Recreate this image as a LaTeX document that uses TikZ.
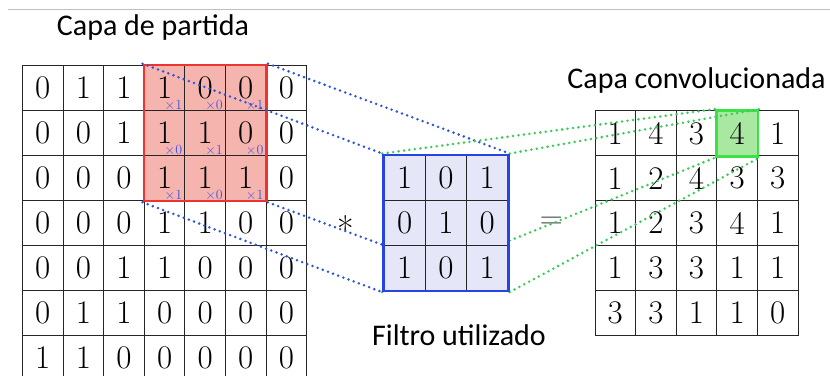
\documentclass[tikz,border=0pt]{standalone}
\usepackage{fontspec}
\newfontfamily\capafont{Carlito}
\usetikzlibrary{calc,fit,positioning}
\definecolor{capared}{RGB}{238,52,48}
\definecolor{capapink}{RGB}{246,180,174}
\definecolor{capablue}{RGB}{38,68,228}
\definecolor{capalav}{RGB}{229,231,248}
\definecolor{capagreen}{RGB}{58,226,70}
\definecolor{capamint}{RGB}{168,232,160}
\definecolor{dotblue}{RGB}{45,85,215}
\definecolor{dotgreen}{RGB}{55,205,90}
\definecolor{weightblue}{RGB}{70,80,225}
\pgfdeclarelayer{back}
\pgfdeclarelayer{lines}
\pgfdeclarelayer{front}
\pgfsetlayers{back,main,lines,front}
\tikzstyle{cell}=[
	draw=black!85,
	line width=1pt,
	rectangle,
	minimum width=40.6pt,
	minimum height=45pt,
	inner sep=0,
	font=\fontsize{33}{33}\selectfont]
\tikzstyle{kcell}=[
	cell,
	minimum width=41.3pt,
	fill=capalav]
\tikzstyle{weight}=[
	anchor=south east,
	inner sep=1pt,
	text=weightblue,
	font=\fontsize{14}{14}\selectfont]
\tikzstyle{winframe}=[
	rectangle,
	line width=2.6pt,
	inner sep=0]
\tikzstyle{link}=[
	line width=2.8pt,
	line cap=round,
	dash pattern=on 0pt off 5.5pt]
\tikzstyle{caption}=[
	anchor=base,
	inner sep=0,
	font=\capafont\fontsize{30}{30}\selectfont]
\begin{document}
\begin{tikzpicture}[x=1pt,y=-1pt]
	\path[use as bounding box,clip] (0,0) rectangle (830,375);
	\draw[black!25,line width=.8pt] (8,9) -- (830,9);
	% capa de partida
	\foreach \row [count=\r] in {{0,1,1,1,0,0,0},{0,0,1,1,1,0,0},{0,0,0,1,1,1,0},{0,0,0,1,1,0,0},{0,0,1,1,0,0,0},{0,1,1,0,0,0,0},{1,1,0,0,0,0,0}}
		\foreach \v [count=\c] in \row
			\node[cell] (in-\r-\c) at ({22.5+40.6*(\c-.5)},{65.5+45*(\r-.5)}) {\v};
	\begin{pgfonlayer}{back}
		\node[winframe,fill=capapink,fit=(in-1-4)(in-3-6)] (windowbg) {};
	\end{pgfonlayer}
	\foreach \row [count=\r] in {{1,0,1},{0,1,0},{1,0,1}}
		\foreach \v [count=\c] in \row {
			\pgfmathtruncatemacro\cc{\c+3}
			\node[weight] (w-\r-\c) at ([xshift=-2pt]in-\r-\cc.south east) {×\v};
		}
	\node[winframe,draw=capared,fit=(in-1-4)(in-3-6)] (window) {};
	\node[caption] (textin) at (153,35) {Capa de partida};
	% filtro
	\begin{pgfonlayer}{front}
		\foreach \row [count=\r] in {{1,0,1},{0,1,0},{1,0,1}}
			\foreach \v [count=\c] in \row
				\node[kcell] (filt-\r-\c) at ({384+41.3*(\c-.5)},{155.3+45*(\r-.5)}) {\v};
		\node[winframe,draw=capablue,fit=(filt-1-1)(filt-3-3)] (kernel) {};
	\end{pgfonlayer}
	\node[caption] (textfilt) at (459,345) {Filtro utilizado};
	% capa convolucionada
	\foreach \row [count=\r] in {{1,4,3,4,1},{1,2,4,3,3},{1,2,3,4,1},{1,3,3,1,1},{3,3,1,1,0}}
		\foreach \v [count=\c] in \row
			\node[cell] (out-\r-\c) at ({595+40.6*(\c-.5)},{111+44.8*(\r-.5)}) {\v};
	\begin{pgfonlayer}{back}
		\node[winframe,fill=capamint,fit=(out-1-4)] (targetbg) {};
	\end{pgfonlayer}
	\node[winframe,draw=capagreen,fit=(out-1-4)] (target) {};
	\node[caption] (textout) at (696.5,88) {Capa convolucionada};
	% operadores
	\node[font=\fontsize{36}{36}\selectfont,inner sep=0,yshift=-6pt] (conv) at ($(in-4-7.east)!.5!(filt-2-1.west)$) {*};
	\node[font=\fontsize{32}{32}\selectfont,text=black!70] (eq) at ($(filt-2-3.east)!.5!(out-3-1.west)$) {=};
	% lineas
	\begin{pgfonlayer}{lines}
		\draw[link,dotblue] (window.north west) -- (kernel.north west);
		\draw[link,dotblue] (window.north east) -- (kernel.north east);
		\draw[link,dotblue] (window.south west) -- (kernel.south west);
		\draw[link,dotblue] (window.south east) -- (kernel.south east);
		\draw[link,dotgreen] (kernel.north west) -- (target.north west);
		\draw[link,dotgreen] (kernel.north east) -- (target.north east);
		\draw[link,dotgreen] (kernel.south west) -- (target.south west);
		\draw[link,dotgreen] (kernel.south east) -- (target.south east);
	\end{pgfonlayer}
\end{tikzpicture}
\end{document}
